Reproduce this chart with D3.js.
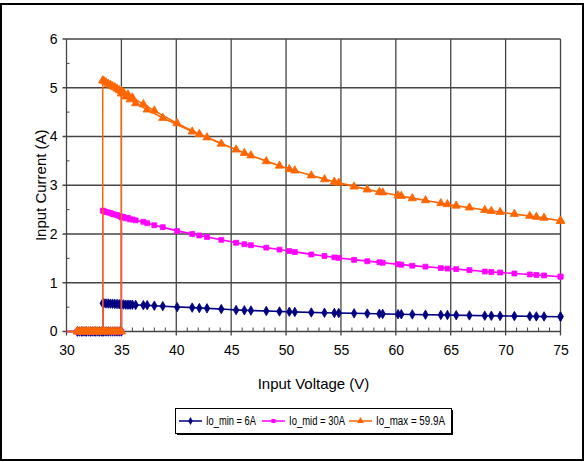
<!DOCTYPE html>
<html><head><meta charset="utf-8">
<script src="https://cdn.jsdelivr.net/npm/d3@7"></script>
<style>
html,body{margin:0;padding:0;background:#fff;}
svg text{font-family:"Liberation Sans",Arial,sans-serif;}
</style></head>
<body><svg id="c" width="586" height="462"></svg>
<script>
// ---- data ----
const voltsUp = [31.0,31.2,31.4,31.6,31.8,32.0,32.2,32.4,32.6,32.8,33.0,33.2,33.4,33.6,33.8,34.0,34.2,34.4,34.6,34.8,35.0,
  35.0,35.4,35.8,36.3,37.35,38.77,41.45,42.8,44.1,45.45,46.8,48.2,49.4,50.8,52.3,53.5,54.8,56.2,57.4,58.8,60.5,61.5,62.7,64.1,65.5,66.7,68.1,69.5,70.8,72.2,73.5,75.0];
const voltsDown = [75.0,72.8,68.7,64.7,60.2,58.5,54.4,50.3,46.2,42.1,40.08,38.0,37.0,36.0,35.6,35.2,
  35.0,34.8,34.6,34.4,34.2,34.0,33.8,33.6,33.4,33.3,33.3,33.0,32.6,32.2,31.8,31.4,31.0,29.0];

const minUp = [0,0,0,0,0,0,0,0,0,0,0,0,0,0,0,0,0,0,0,0,0,
  0.55,0.55,0.55,0.545,0.54,0.52,0.49,0.475,0.46,0.44,0.43,0.42,0.41,0.40,0.39,0.385,0.378,0.372,0.367,0.36,0.354,0.35,0.345,0.34,0.335,0.33,0.325,0.32,0.316,0.312,0.308,0.305];
const minDown = [0.305,0.31,0.323,0.338,0.355,0.362,0.38,0.405,0.435,0.48,0.50,0.53,0.54,0.55,0.55,0.555,
  0.56,0.56,0.565,0.565,0.57,0.57,0.575,0.575,0.58,0.58,0,0,0,0,0,0,0,0];

const midUp = [0,0,0,0,0,0,0,0,0,0,0,0,0,0,0,0,0,0,0,0,0,
  2.34,2.32,2.30,2.28,2.22,2.14,2.00,1.94,1.88,1.82,1.77,1.72,1.68,1.63,1.58,1.55,1.51,1.47,1.44,1.41,1.37,1.35,1.33,1.30,1.28,1.26,1.23,1.21,1.19,1.17,1.15,1.125];
const midDown = [1.125,1.16,1.22,1.29,1.38,1.42,1.52,1.65,1.79,1.97,2.06,2.18,2.25,2.30,2.33,2.35,
  2.36,2.37,2.39,2.40,2.41,2.43,2.44,2.45,2.47,2.48,0,0,0,0,0,0,0,0];

const maxUp = [0,0,0,0,0,0,0,0,0,0,0,0,0,0,0,0,0,0,0,0,0,
  4.88,4.82,4.76,4.68,4.55,4.38,4.10,3.98,3.85,3.73,3.61,3.49,3.40,3.30,3.20,3.12,3.05,2.97,2.91,2.85,2.78,2.73,2.69,2.63,2.58,2.54,2.49,2.45,2.41,2.37,2.33,2.27];
const maxDown = [2.27,2.35,2.47,2.61,2.79,2.86,3.07,3.33,3.66,4.05,4.27,4.53,4.66,4.80,4.86,4.90,
  4.93,4.95,4.98,5.01,5.03,5.06,5.08,5.11,5.14,5.15,0,0,0,0,0,0,0,0];

const seriesNames = ["Io_min = 6A","Io_mid = 30A","Io_max = 59.9A"];
const seriesColors = ["#000080","#FF00FF","#FF6600"];
const seriesMarkers = ["diamond","square","triangle"];
const xTicks = [30,35,40,45,50,55,60,65,70,75];
const yTicks = [0,1,2,3,4,5,6];
const xTitle = "Input Voltage (V)";
const yTitle = "Input Current (A)";

// ---- build ----
const volts = voltsUp.concat(voltsDown);
const vals = [minUp.concat(minDown), midUp.concat(midDown), maxUp.concat(maxDown)];
const series = vals.map((v,i)=>({name:seriesNames[i],color:seriesColors[i],marker:seriesMarkers[i],
  pts:volts.map((x,j)=>({x:x,y:v[j]}))}));

const svg = d3.select("#c");
svg.append("rect").attr("x",1).attr("y",4).attr("width",582).attr("height",456)
  .attr("fill","#fff").attr("stroke","#000").attr("stroke-width",2);

const L=66.5,R=560.5,T=39,B=331.5;
const x = d3.scaleLinear().domain([30,75]).range([L,R]);
const y = d3.scaleLinear().domain([0,6]).range([B,T]);

svg.append("defs").append("clipPath").attr("id","clip")
  .append("rect").attr("x",L).attr("y",T-10).attr("width",R-L+10).attr("height",B-T+20);

const g = svg.append("g");
g.selectAll(".vg").data(xTicks).join("line")
  .attr("x1",d=>x(d)).attr("x2",d=>x(d)).attr("y1",T).attr("y2",B+4)
  .attr("stroke","#444").attr("stroke-width",1.3);
g.selectAll(".hg").data(yTicks).join("line")
  .attr("x1",L-4).attr("x2",R).attr("y1",d=>y(d)).attr("y2",d=>y(d))
  .attr("stroke","#444").attr("stroke-width",1.3);
const xMinor = d3.range(30,76,1).filter(v=>v%5!==0);
g.selectAll(".xm").data(xMinor).join("line")
  .attr("x1",d=>x(d)).attr("x2",d=>x(d)).attr("y1",B-4).attr("y2",B)
  .attr("stroke","#444").attr("stroke-width",1);
const yMinor = [0.5,1.5,2.5,3.5,4.5,5.5];
g.selectAll(".ym").data(yMinor).join("line")
  .attr("x1",L).attr("x2",L+3).attr("y1",d=>y(d)).attr("y2",d=>y(d))
  .attr("stroke","#444").attr("stroke-width",1);

const xAxis = d3.axisBottom(x).tickValues(xTicks).tickFormat(d3.format("d")).tickSize(0).tickPadding(14);
const ga = svg.append("g").attr("transform",`translate(0,${B})`).call(xAxis);
ga.select(".domain").remove();
ga.selectAll("text").attr("font-size",14).attr("fill","#000").style("font-family",'"Liberation Sans",Arial,sans-serif');
const yAxis = d3.axisLeft(y).tickValues(yTicks).tickFormat(d3.format("d")).tickSize(0).tickPadding(9);
const gy = svg.append("g").attr("transform",`translate(${L},0)`).call(yAxis);
gy.select(".domain").remove();
gy.selectAll("text").attr("font-size",14).attr("fill","#000").style("font-family",'"Liberation Sans",Arial,sans-serif');

svg.append("text").attr("x",(L+R)/2).attr("y",389).attr("text-anchor","middle")
  .attr("font-size",15).text(xTitle);
svg.append("text").attr("transform",`translate(46,${(T+B)/2}) rotate(-90)`).attr("text-anchor","middle")
  .attr("font-size",15).text(yTitle);

const line = d3.line().x(d=>x(d.x)).y(d=>y(d.y));
const symType = {diamond:d3.symbolDiamond, square:d3.symbolSquare, triangle:d3.symbolTriangle};
const symSize = {diamond:26, square:24, triangle:30};
const sg = svg.append("g").attr("clip-path","url(#clip)");
series.forEach(s=>{
  sg.append("path").datum(s.pts).attr("d",line).attr("fill","none")
    .attr("stroke",s.color).attr("stroke-width",1.5).attr("stroke-linejoin","round");
  const sym = d3.symbol().type(symType[s.marker]).size(symSize[s.marker]);
  sg.selectAll(null).data(s.pts.filter(p=>p.x>=30)).join("path")
    .attr("d",sym).attr("transform",d=>`translate(${x(d.x)},${y(d.y)})`)
    .attr("fill",s.color).attr("stroke",s.color).attr("stroke-width",0.8);
});

// legend
const lg = svg.append("g");
lg.append("rect").attr("x",177).attr("y",410).attr("width",276).attr("height",25).attr("fill","#000");
lg.append("rect").attr("x",175.5).attr("y",408.5).attr("width",276).attr("height",25)
  .attr("fill","#fff").attr("stroke","#000").attr("stroke-width",1);
const lx = [179,262,349];
const tl = [50,56,69];
series.forEach((s,i)=>{
  lg.append("line").attr("x1",lx[i]).attr("x2",lx[i]+23).attr("y1",421).attr("y2",421)
    .attr("stroke",s.color).attr("stroke-width",1.5);
  lg.append("path").attr("d",d3.symbol().type(symType[s.marker]).size(symSize[s.marker]*0.7)())
    .attr("transform",`translate(${lx[i]+11.5},421)`).attr("fill",s.color);
  lg.append("text").attr("x",lx[i]+27).attr("y",425).attr("font-size",12)
    .attr("textLength",tl[i]).attr("lengthAdjust","spacingAndGlyphs").text(s.name);
});
</script></body></html>
